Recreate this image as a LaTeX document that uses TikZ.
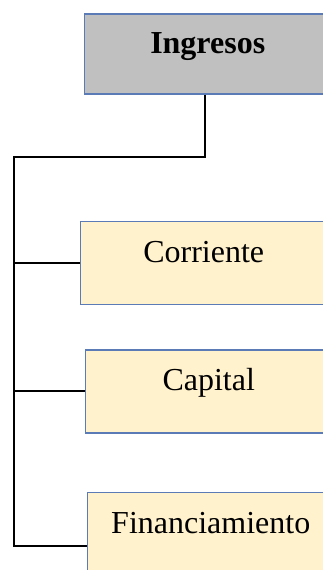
\documentclass[tikz,border=0pt]{standalone}
\usepackage{fontspec}
\setmainfont{Liberation Serif}
\usetikzlibrary{positioning}
\definecolor{boxline}{HTML}{5A7BB5}
\definecolor{rootfill}{HTML}{C0C0C0}
\definecolor{leaffill}{HTML}{FFF2CC}
\begin{document}
\begin{tikzpicture}[node distance=22pt, font=\fontsize{16}{19}\selectfont]
    \tikzstyle{every box}=[draw=boxline, line width=0.75pt, minimum width=123pt, inner ysep=0pt, text height=20.5pt, text depth=21pt]
    \tikzstyle{root}=[every box, fill=rootfill, font=\fontsize{16}{19}\selectfont\bfseries, text height=20pt, text depth=20pt]
    \tikzstyle{leaf}=[every box, fill=leaffill]
    \tikzstyle{link}=[line width=1pt, black]

    \useasboundingbox (0,0) rectangle (161.5pt,-285pt);
    \clip (0,0) rectangle (161.5pt,-285pt);

    \node[root, anchor=north west] (ingresos) at (42pt,-6.5pt) {Ingresos};
    \node[leaf, below=63pt of ingresos.south west, anchor=north west, xshift=-2pt] (corriente) {Corriente};
    \node[leaf, below=of corriente.south west, anchor=north west, xshift=2.5pt] (capital) {Capital};
    \node[leaf, below=29pt of capital.south west, anchor=north west, xshift=1pt, text depth=33pt] (financ) {Financiamiento};

    \coordinate[below=31pt of ingresos.south, xshift=-1.5pt] (elbow);
    \coordinate (rail) at (7pt,0);

    \draw[link] (ingresos.south -| elbow) -- (elbow) -- (elbow -| rail) |- (financ.west);
    \draw[link] (rail |- corriente.west) -- (corriente.west);
    \draw[link] (rail |- capital.west) -- (capital.west);
\end{tikzpicture}
\end{document}
